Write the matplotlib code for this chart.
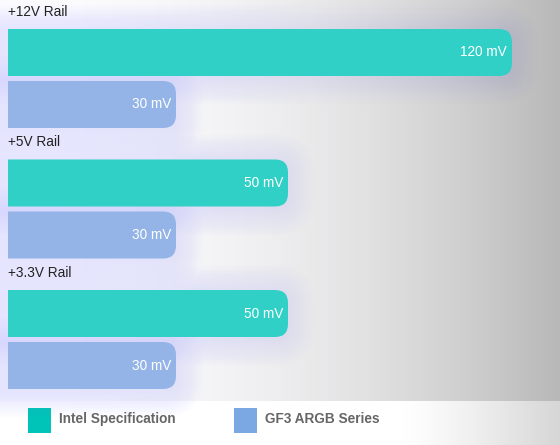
import numpy as np
import matplotlib
matplotlib.use("Agg")
import matplotlib.pyplot as plt
from matplotlib.patches import FancyBboxPatch, Rectangle

# ---- data ----
rails = ["+12V Rail", "+5V Rail", "+3.3V Rail"]
series_names = ["Intel Specification", "GF3 ARGB Series"]
intel_mv = [120, 50, 50]
gf3_mv = [30, 30, 30]
value_labels_intel = ["120 mV", "50 mV", "50 mV"]
value_labels_gf3 = ["30 mV", "30 mV", "30 mV"]

# ---- styles ----
bar_colors = ["#30d0c6", "#94b3e7"]
legend_colors = ["#00c4b8", "#7ba7e3"]
glow_rgb = (0.58, 0.58, 1.0)
DISPLAY_CAP = 90  # bars are visually capped at the container width

W, H, DPI = 560, 445, 100
fig = plt.figure(figsize=(W / DPI, H / DPI), dpi=DPI)

# background gradient
bg = fig.add_axes([0, 0, 1, 1])
bg.set_xlim(0, W)
bg.set_ylim(H, 0)
bg.axis("off")
xs = np.linspace(0, 1, 400)
top = 252 - 68 * xs ** 2.2
top = np.clip(top, 0, 255) / 255.0
img_top = np.tile(top[None, :, None], (2, 1, 3))
img_top[..., 2] = np.clip(img_top[..., 2] + 0.012 * (1 - xs)[None, :], 0, 1)
bg.imshow(img_top, extent=[0, W, 401, 0], aspect="auto", zorder=0)
bot = np.where(xs < 0.72, 1.0, 1.0 - 0.16 * ((xs - 0.72) / 0.28) ** 1.2)
img_bot = np.tile(bot[None, :, None], (2, 1, 3))
bg.imshow(img_bot, extent=[0, W, H, 401], aspect="auto", zorder=0)

# main axes: x in mV, y in pixel rows
left_px = 8
px_per_mv = 5.6
ax_w = W - left_px
ax = fig.add_axes([left_px / W, (H - 401) / H, ax_w / W, 401 / H])
ax.set_xlim(0, ax_w / px_per_mv)
ax.set_ylim(401, 0)
ax.axis("off")
ax.patch.set_alpha(0)

pitch = 130.5
label_off = 12
bar_h = 47
offs = [29, 81]
radius_px = 13
aspect = px_per_mv

def rbar(y0, val, color, z, alpha=1.0, grow=0.0, clip=True, dy=0.0):
    w = min(val, DISPLAY_CAP)
    gx = grow / px_per_mv
    p = FancyBboxPatch((-6 - gx, y0 - grow + dy), w + 6 + 2 * gx, bar_h + 2 * grow,
                       boxstyle=f"round,pad=0,rounding_size={(radius_px + grow) / px_per_mv}",
                       mutation_aspect=aspect, facecolor=color, edgecolor="none",
                       alpha=alpha, zorder=z, clip_on=clip)
    ax.add_patch(p)

for i, rail in enumerate(rails):
    base = i * pitch
    ax.text(0, base + label_off, rail, ha="left", va="center", fontsize=9.8,
            color="#222222", family="Liberation Sans")
    for j, (vals, labs) in enumerate([(intel_mv, value_labels_intel), (gf3_mv, value_labels_gf3)]):
        y0 = base + offs[j]
        for g in range(1, 15):
            rbar(y0, vals[i], glow_rgb, 1, alpha=0.011, grow=g * 1.9, clip=False, dy=2)
        rbar(y0, vals[i], bar_colors[j], 3)
        w = min(vals[i], DISPLAY_CAP)
        ax.text(w - 5 / px_per_mv, y0 + bar_h / 2, labs[i], ha="right", va="center",
                fontsize=9.8, color="white", family="Liberation Sans", zorder=5)

# legend
for k, name in enumerate(series_names):
    x0 = 28 + k * 206
    bg.add_patch(Rectangle((x0, 408), 23, 25, facecolor=legend_colors[k], edgecolor="none", zorder=2))
    bg.text(x0 + 31, 419, name, ha="left", va="center", fontsize=9.8, fontweight="bold",
            color="#666666", family="Liberation Sans", zorder=3)

fig.savefig("out.png", dpi=DPI)
